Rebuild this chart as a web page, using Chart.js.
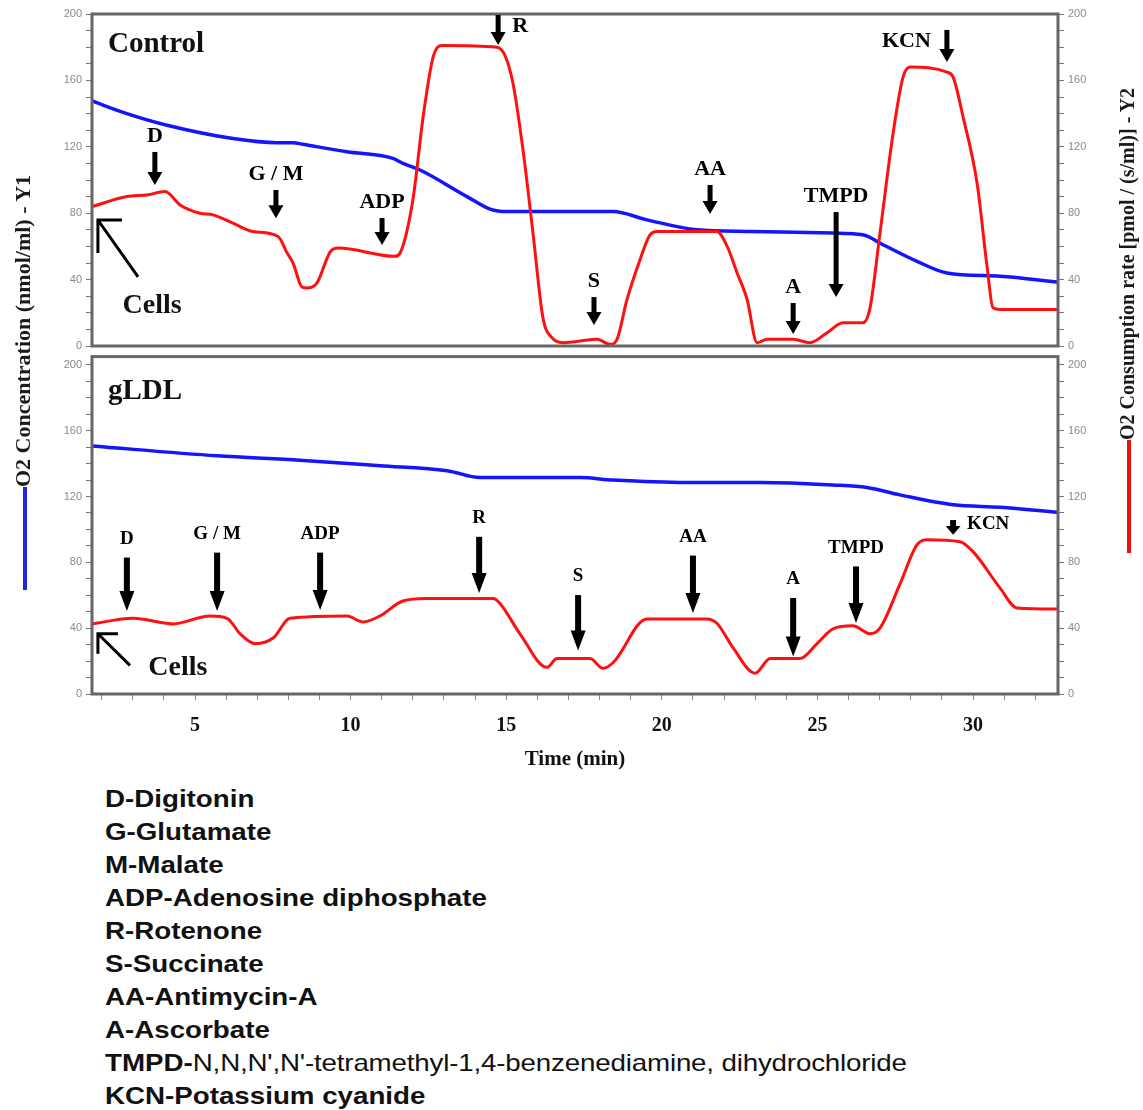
<!DOCTYPE html>
<html>
<head>
<meta charset="utf-8">
<script src="https://cdn.jsdelivr.net/npm/chart.js@4.4.1/dist/chart.umd.min.js"></script>
<style>
  body { margin: 0; background: #fff; width: 1143px; height: 1110px; position: relative; overflow: hidden; }
  canvas { position: absolute; left: 0; }
  #top { top: 0; }
  #bottom { top: 346px; }
  .ytitle { position: absolute; height: 24px; line-height: 24px; white-space: nowrap;
    font: bold 22px "Liberation Serif", serif; color: #1a1a1a;
    transform: rotate(-90deg); transform-origin: center center; }
  .ytitle .swatch { display: inline-block; height: 4px; vertical-align: middle; }
  #notes { position: absolute; left: 105px; top: 782px; color: #111;
    font: bold 24px "Liberation Sans", Arial, sans-serif; line-height: 33px;
    transform: scaleX(1.155); transform-origin: left top; }
  #notes .plain { font-weight: normal; letter-spacing: -0.15px; }
</style>
</head>
<body>
<canvas id="top" width="1143" height="360"></canvas>
<canvas id="bottom" width="1143" height="434"></canvas>

<div class="ytitle" style="left:-193px; top:363px; width:430px;"><span class="swatch" style="width:103px; background:#2424e8"></span>O2 Concentration (nmol/ml) - Y1</div>
<div class="ytitle" style="left:893px; top:306px; width:470px; font-size:20px;"><span class="swatch" style="width:113px; background:#ee1010"></span>O2 Consumption rate [pmol / (s/ml)] - Y2</div>

<div id="notes">
  <div>D-Digitonin</div>
  <div>G-Glutamate</div>
  <div>M-Malate</div>
  <div>ADP-Adenosine diphosphate</div>
  <div>R-Rotenone</div>
  <div>S-Succinate</div>
  <div>AA-Antimycin-A</div>
  <div>A-Ascorbate</div>
  <div>TMPD-<span class="plain">N,N,N',N'-tetramethyl-1,4-benzenediamine, dihydrochloride</span></div>
  <div>KCN-Potassium cyanide</div>
</div>

<script>
// time axis (min)
const xMin = 1.69, xMax = 32.73;
const xTickValues = [5, 10, 15, 20, 25, 30];

// Control: O2 consumption rate (Y2, red)
const ctrlRateTime = [1.69, 2.81, 3.46, 4.04, 4.52, 5.16, 5.58, 6.22, 6.86, 7.67, 7.96, 8.15, 8.44, 8.63, 8.92, 9.34, 9.60,
  11.43, 11.59, 12.00, 12.33, 12.65, 12.94, 14.70, 14.96, 15.22, 15.54, 15.86, 16.18, 16.47, 16.82, 17.92, 18.34, 18.56,
  18.88, 19.30, 19.62, 19.85, 21.65, 21.77, 22.10, 22.42, 22.74, 23.06, 23.38, 24.22, 24.76, 25.31, 25.82, 26.46, 26.69,
  27.01, 27.43, 27.75, 27.98, 29.16, 29.36, 29.68, 30.13, 30.45, 30.64, 30.87, 32.73];
const ctrlRate = [84, 90, 91, 93, 85, 80, 79, 74, 69, 66, 56, 50, 35.5, 35, 38, 56.6, 59,
  54, 56, 88, 138, 174, 181, 180, 175, 158, 118, 68, 17, 5, 2, 4, 1, 4,
  28, 52, 67, 69, 69, 69, 60, 44, 28, 2, 4, 4, 2, 8, 14, 14, 23,
  68, 128, 162, 168, 165, 162, 138, 98, 48, 23, 22, 22];

// Control: O2 concentration (Y1, blue)
const ctrlConcTime = [1.69, 2.81, 4.10, 6.22, 7.63, 8.15, 8.47, 9.88, 11.36, 11.68, 12.23, 13.74, 14.48, 15.03,
  17.37, 18.43, 19.52, 21.13, 22.83, 25.50, 26.46, 27.11, 28.20, 29.16, 30.87, 32.73];
const ctrlConc = [147.6, 140, 133, 125, 122.5, 122.5, 121.5, 117, 113, 110, 106, 90, 82.5, 81,
  81, 81, 76, 70, 69, 68, 67, 61, 51, 44, 42, 38.5];

// gLDL: O2 consumption rate (Y2, red)
const gldlRateTime = [1.69, 3.01, 4.29, 5.48, 6.03, 6.45, 6.93, 7.51, 8.05, 9.88, 10.40, 10.94, 11.68, 12.45, 14.58,
  14.80, 15.44, 16.31, 16.63, 17.69, 18.11, 18.43, 19.52, 21.45, 21.77, 22.29, 23.00, 23.48, 24.44, 24.99, 25.50,
  26.14, 26.69, 27.01, 27.65, 28.20, 28.52, 29.58, 30.00, 30.87, 31.41, 32.70];
const gldlRate = [42.6, 46, 42.6, 47.4, 46, 36.6, 30.6, 34, 46, 47.4, 43.8, 47.4, 56.5, 58, 58,
  55, 36.6, 16.2, 21.6, 21.6, 15.6, 19, 45.6, 45.6, 43, 28, 12.6, 21.6, 21.6, 30.6, 39.6,
  41.4, 36.6, 40, 66.7, 90.7, 93.7, 92.5, 86.5, 64.3, 52.3, 51.6];

// gLDL: O2 concentration (Y1, blue)
const gldlConcTime = [1.69, 5.71, 8.37, 10.94, 13.10, 14.16, 17.37, 18.43, 20.81, 23.16, 25.50, 26.59, 27.65,
  29.36, 30.87, 32.70];
const gldlConc = [150.7, 144.7, 142, 138.7, 135.7, 131.5, 131.5, 130, 128.5, 128.5, 127, 125.5, 121,
  115, 113.5, 110.5];

// injections
const eventNames = ['D', 'G / M', 'ADP', 'R', 'S', 'AA', 'A', 'TMPD', 'KCN'];
const ctrlEventTime = [3.71, 7.60, 11.01, 14.74, 17.82, 21.55, 24.22, 25.60, 29.16];
const ctrlArrowFrom = [116.9, 94, 77.1, 199.4, 29.5, 97, 25.9, 80.7, 190.4];
const ctrlArrowTo = [97, 77, 60.8, 181.3, 12.7, 79.5, 7.2, 29.5, 171.1];
const gldlEventTime = [2.81, 5.71, 9.02, 14.13, 17.31, 21.00, 24.22, 26.24, 29.36];
const gldlArrowFrom = [82.9, 85.9, 85.9, 95.5, 60.1, 84.1, 58.3, 77.5, 105.7];
const gldlArrowTo = [50.5, 50.5, 51.1, 61.3, 26.4, 49.2, 22.8, 43.2, 96.7];

// "Cells" pointer: [time, value] of tip, tail and label
const ctrlCells = [[1.88, 75.9], [3.17, 41.6], [3.62, 24]];
const gldlCells = [[1.88, 36.6], [2.91, 17.4], [4.45, 16.2]];

const RED = '#ff1010', BLUE = '#1414ff';
const serif = 'Liberation Serif, Times New Roman, serif';

function pts(t, v) { return t.map((x, i) => ({ x: x, y: v[i] })); }

function yAxis(position, max) {
  return {
    type: 'linear', position: position, min: 0, max: max,
    afterBuildTicks: s => { s.ticks = []; for (let v = 0; v <= 200; v += 10) s.ticks.push({ value: v }); },
    afterFit: s => { s.width = position === 'left' ? 92 : 85; },
    grid: { drawOnChartArea: false, tickLength: 6, color: '#777' },
    border: { display: false },
    ticks: { autoSkip: false, padding: 4, color: '#8a8a8a', font: { family: 'Liberation Sans', size: 11 },
      callback: v => (v % 40 === 0 ? v : '') }
  };
}

function annotations(opts) {
  return {
    id: 'annot' + opts.name,
    afterDatasetsDraw(chart) {
      const { ctx, chartArea: a } = chart;
      const xs = chart.scales.x, ys = chart.scales.y2;
      ctx.save();
      // frame
      ctx.strokeStyle = '#666';
      ctx.lineWidth = 3;
      ctx.strokeRect(a.left, a.top, a.right - a.left, a.bottom - a.top);
      // panel name
      ctx.fillStyle = '#111';
      ctx.font = 'bold 29px ' + serif;
      ctx.textAlign = 'left';
      ctx.textBaseline = 'middle';
      ctx.fillText(opts.name, a.left + 16, a.top + opts.nameDy);
      // arrows
      opts.times.forEach((t, i) => {
        const x = xs.getPixelForValue(t);
        const y0 = ys.getPixelForValue(opts.from[i]);
        const y1 = ys.getPixelForValue(opts.to[i]);
        const hl = Math.min(opts.headLen, (y1 - y0) * 0.6);
        ctx.fillStyle = '#000';
        ctx.fillRect(x - opts.shaft / 2, y0, opts.shaft, y1 - y0 - hl + 1);
        ctx.beginPath();
        ctx.moveTo(x - opts.head / 2, y1 - hl);
        ctx.lineTo(x + opts.head / 2, y1 - hl);
        ctx.lineTo(x, y1);
        ctx.closePath();
        ctx.fill();
        ctx.font = 'bold ' + opts.labelSize + 'px ' + serif;
        const side = opts.side[i];
        if (side === 'right') {
          ctx.textAlign = 'left'; ctx.textBaseline = 'middle';
          ctx.fillText(eventNames[i], x + 14, y0 + opts.sideDy);
        } else if (side === 'left') {
          ctx.textAlign = 'right'; ctx.textBaseline = 'middle';
          ctx.fillText(eventNames[i], x - 16, y0 + opts.sideDy);
        } else {
          ctx.textAlign = 'center'; ctx.textBaseline = 'bottom';
          ctx.fillText(eventNames[i], x, y0 - opts.gap);
        }
      });
      // cells pointer
      const c = opts.cells.map(p => [xs.getPixelForValue(p[0]), ys.getPixelForValue(p[1])]);
      ctx.strokeStyle = '#000';
      ctx.lineWidth = 3;
      ctx.beginPath();
      ctx.moveTo(c[1][0], c[1][1]);
      ctx.lineTo(c[0][0], c[0][1]);
      ctx.moveTo(c[0][0] + opts.cellsHead[0], c[0][1]);
      ctx.lineTo(c[0][0], c[0][1]);
      ctx.lineTo(c[0][0], c[0][1] + opts.cellsHead[1]);
      ctx.stroke();
      ctx.fillStyle = '#111';
      ctx.font = 'bold 28px ' + serif;
      ctx.textAlign = 'center'; ctx.textBaseline = 'middle';
      ctx.fillText('Cells', c[2][0], c[2][1]);
      ctx.restore();
    }
  };
}

function panel(id, cfg) {
  return new Chart(document.getElementById(id), {
    type: 'line',
    data: {
      datasets: [
        { data: pts(cfg.rateTime, cfg.rate), yAxisID: 'y2', borderColor: RED, borderWidth: 3,
          pointRadius: 0, cubicInterpolationMode: 'monotone' },
        { data: pts(cfg.concTime, cfg.conc), yAxisID: 'y', borderColor: BLUE, borderWidth: 3.5,
          pointRadius: 0, cubicInterpolationMode: 'monotone' }
      ]
    },
    options: {
      responsive: false,
      animation: false,
      devicePixelRatio: 1,
      layout: { padding: cfg.padding },
      plugins: { legend: { display: false }, tooltip: { enabled: false } },
      scales: {
        x: cfg.xAxis,
        y: yAxis('left', cfg.yMax),
        y2: yAxis('right', cfg.yMax)
      }
    },
    plugins: [annotations(cfg.annot)]
  });
}

panel('top', {
  rateTime: ctrlRateTime, rate: ctrlRate, concTime: ctrlConcTime, conc: ctrlConc,
  yMax: 200,
  padding: { top: 14, bottom: 14, left: 0, right: 0 },
  xAxis: { type: 'linear', min: xMin, max: xMax, display: false },
  annot: { name: 'Control', nameDy: 31, times: ctrlEventTime, from: ctrlArrowFrom, to: ctrlArrowTo,
    side: ['above', 'above', 'above', 'right', 'above', 'above', 'above', 'above', 'left'],
    shaft: 5, head: 15, headLen: 13, labelSize: 22, gap: 5, sideDy: 11,
    cells: ctrlCells, cellsHead: [24, 33] }
});

panel('bottom', {
  rateTime: gldlRateTime, rate: gldlRate, concTime: gldlConcTime, conc: gldlConc,
  yMax: 205,
  padding: { top: 7, bottom: 0, left: 0, right: 0 },
  xAxis: {
    type: 'linear', min: xMin, max: xMax,
    afterBuildTicks: s => { s.ticks = []; for (let v = 2; v <= 32; v++) s.ticks.push({ value: v }); },
    afterFit: s => { s.height = 86; },
    grid: { drawOnChartArea: false, tickLength: 6, color: '#888' },
    border: { display: false },
    ticks: { autoSkip: false, maxRotation: 0, padding: 14, color: '#111',
      font: { family: serif, size: 20, weight: 'bold' },
      callback: v => (xTickValues.includes(v) ? v : '') },
    title: { display: true, text: 'Time (min)', color: '#111',
      font: { family: serif, size: 21, weight: 'bold' }, padding: { top: 0, bottom: 8 } }
  },
  annot: { name: 'gLDL', nameDy: 35, times: gldlEventTime, from: gldlArrowFrom, to: gldlArrowTo,
    side: ['above', 'above', 'above', 'above', 'above', 'above', 'above', 'above', 'right'],
    shaft: 6, head: 15, headLen: 20, labelSize: 19, gap: 9, sideDy: 4,
    cells: gldlCells, cellsHead: [20, 20] }
});
</script>
</body>
</html>
